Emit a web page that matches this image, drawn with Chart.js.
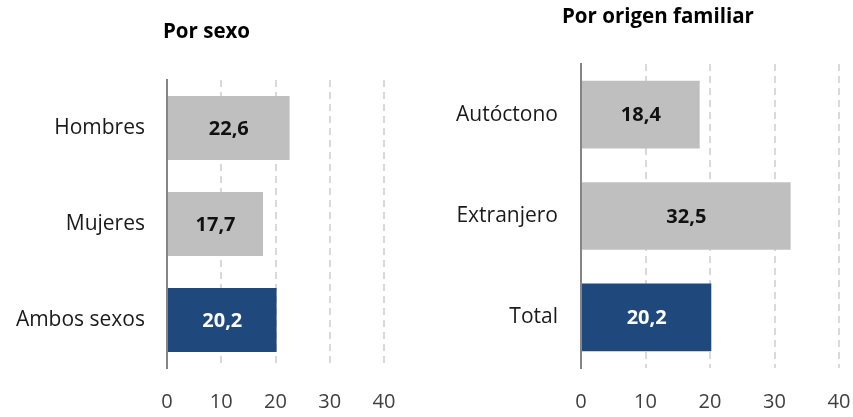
<!DOCTYPE html>
<html lang="es">
<head>
  <meta charset="UTF-8" />
  <title>Por sexo / Por origen familiar</title>
  <script src="https://cdn.jsdelivr.net/npm/chart.js"></script>
  <style>
    html, body { margin: 0; padding: 0; background: #ffffff; }
    .panel { position: absolute; top: 0; height: 417px; }
    #panelSexo { left: 0; width: 420px; }
    #panelOrigen { left: 420px; width: 433px; }
  </style>
</head>
<body>
  <div class="panel" id="panelSexo"><canvas id="sexoChart"></canvas></div>
  <div class="panel" id="panelOrigen"><canvas id="origenChart"></canvas></div>

  <script>
    // datos
    const sexoLabels = ['Hombres', 'Mujeres', 'Ambos sexos'];
    const sexoValues = [22.6, 17.7, 20.2];

    const origenLabels = ['Autóctono', 'Extranjero', 'Total'];
    const origenValues = [18.4, 32.5, 20.2];

    const axisTicks = [0, 10, 20, 30, 40];

    const GRAY = '#bfbfbf';
    const BLUE = '#1f497d';
    const FONT = "'Open Sans', 'DejaVu Sans', sans-serif";

    // el ultimo valor (total) va en azul
    const barColors = (n) => Array.from({ length: n }, (_, i) => i === n - 1 ? BLUE : GRAY);

    const fmt = (v) => v.toFixed(1).replace('.', ',');

    // etiquetas de valor dentro de cada barra
    const valueLabels = {
      id: 'valueLabels',
      afterDatasetsDraw(chart) {
        const { ctx } = chart;
        const meta = chart.getDatasetMeta(0);
        const values = chart.data.datasets[0].data;
        ctx.save();
        ctx.font = `bold 20px ${FONT}`;
        ctx.textAlign = 'center';
        ctx.textBaseline = 'middle';
        meta.data.forEach((bar, i) => {
          ctx.fillStyle = i === values.length - 1 ? '#ffffff' : '#111111';
          ctx.fillText(fmt(values[i]), (bar.x + bar.base) / 2, bar.y + 1);
        });
        ctx.restore();
      }
    };

    // titulo del panel
    const panelTitle = {
      id: 'panelTitle',
      afterDraw(chart, args, opts) {
        const { ctx } = chart;
        ctx.save();
        ctx.font = `bold 20.5px ${FONT}`;
        ctx.fillStyle = '#000000';
        ctx.textAlign = 'left';
        ctx.textBaseline = 'middle';
        ctx.fillText(opts.text, opts.x, opts.y);
        ctx.restore();
      }
    };

    const makeChart = (canvasId, labels, values, cfg) => new Chart(document.getElementById(canvasId), {
      type: 'bar',
      data: {
        labels,
        datasets: [{
          data: values,
          backgroundColor: barColors(values.length),
          barPercentage: 0.667,
          categoryPercentage: 1
        }]
      },
      options: {
        indexAxis: 'y',
        responsive: true,
        maintainAspectRatio: false,
        animation: false,
        layout: { padding: { top: cfg.top, right: cfg.right, left: 0, bottom: 0 } },
        plugins: {
          legend: { display: false },
          tooltip: { enabled: false },
          panelTitle: cfg.title
        },
        scales: {
          x: {
            min: 0,
            max: 40,
            afterBuildTicks: (scale) => { scale.ticks = axisTicks.map(v => ({ value: v })); },
            afterFit: (scale) => {
              scale.height = 49;
              scale.paddingLeft = 0;
              scale.paddingRight = 0;
            },
            ticks: {
              color: '#404040',
              font: { family: FONT, size: 20 },
              padding: 22,
              maxRotation: 0
            },
            grid: {
              drawTicks: false,
              lineWidth: 2,
              color: (c) => c.tick && c.tick.value === 0 ? 'rgba(0,0,0,0)' : '#d9d9d9'
            },
            border: { display: false, dash: [7, 5] }
          },
          y: {
            afterFit: (scale) => { scale.width = cfg.axisLeft; },
            ticks: {
              color: '#1a1a1a',
              font: { family: FONT, size: 21 },
              padding: cfg.labelPad
            },
            grid: { display: false, drawTicks: false },
            border: { display: true, color: '#858585', width: 2 }
          }
        }
      },
      plugins: [valueLabels, panelTitle]
    });

    makeChart('sexoChart', sexoLabels, sexoValues, {
      top: 80, right: 36, axisLeft: 167, labelPad: 22,
      title: { text: 'Por sexo', x: 163, y: 32 }
    });

    makeChart('origenChart', origenLabels, origenValues, {
      top: 64, right: 14, axisLeft: 161, labelPad: 23,
      title: { text: 'Por origen familiar', x: 142, y: 17 }
    });
  </script>
</body>
</html>
